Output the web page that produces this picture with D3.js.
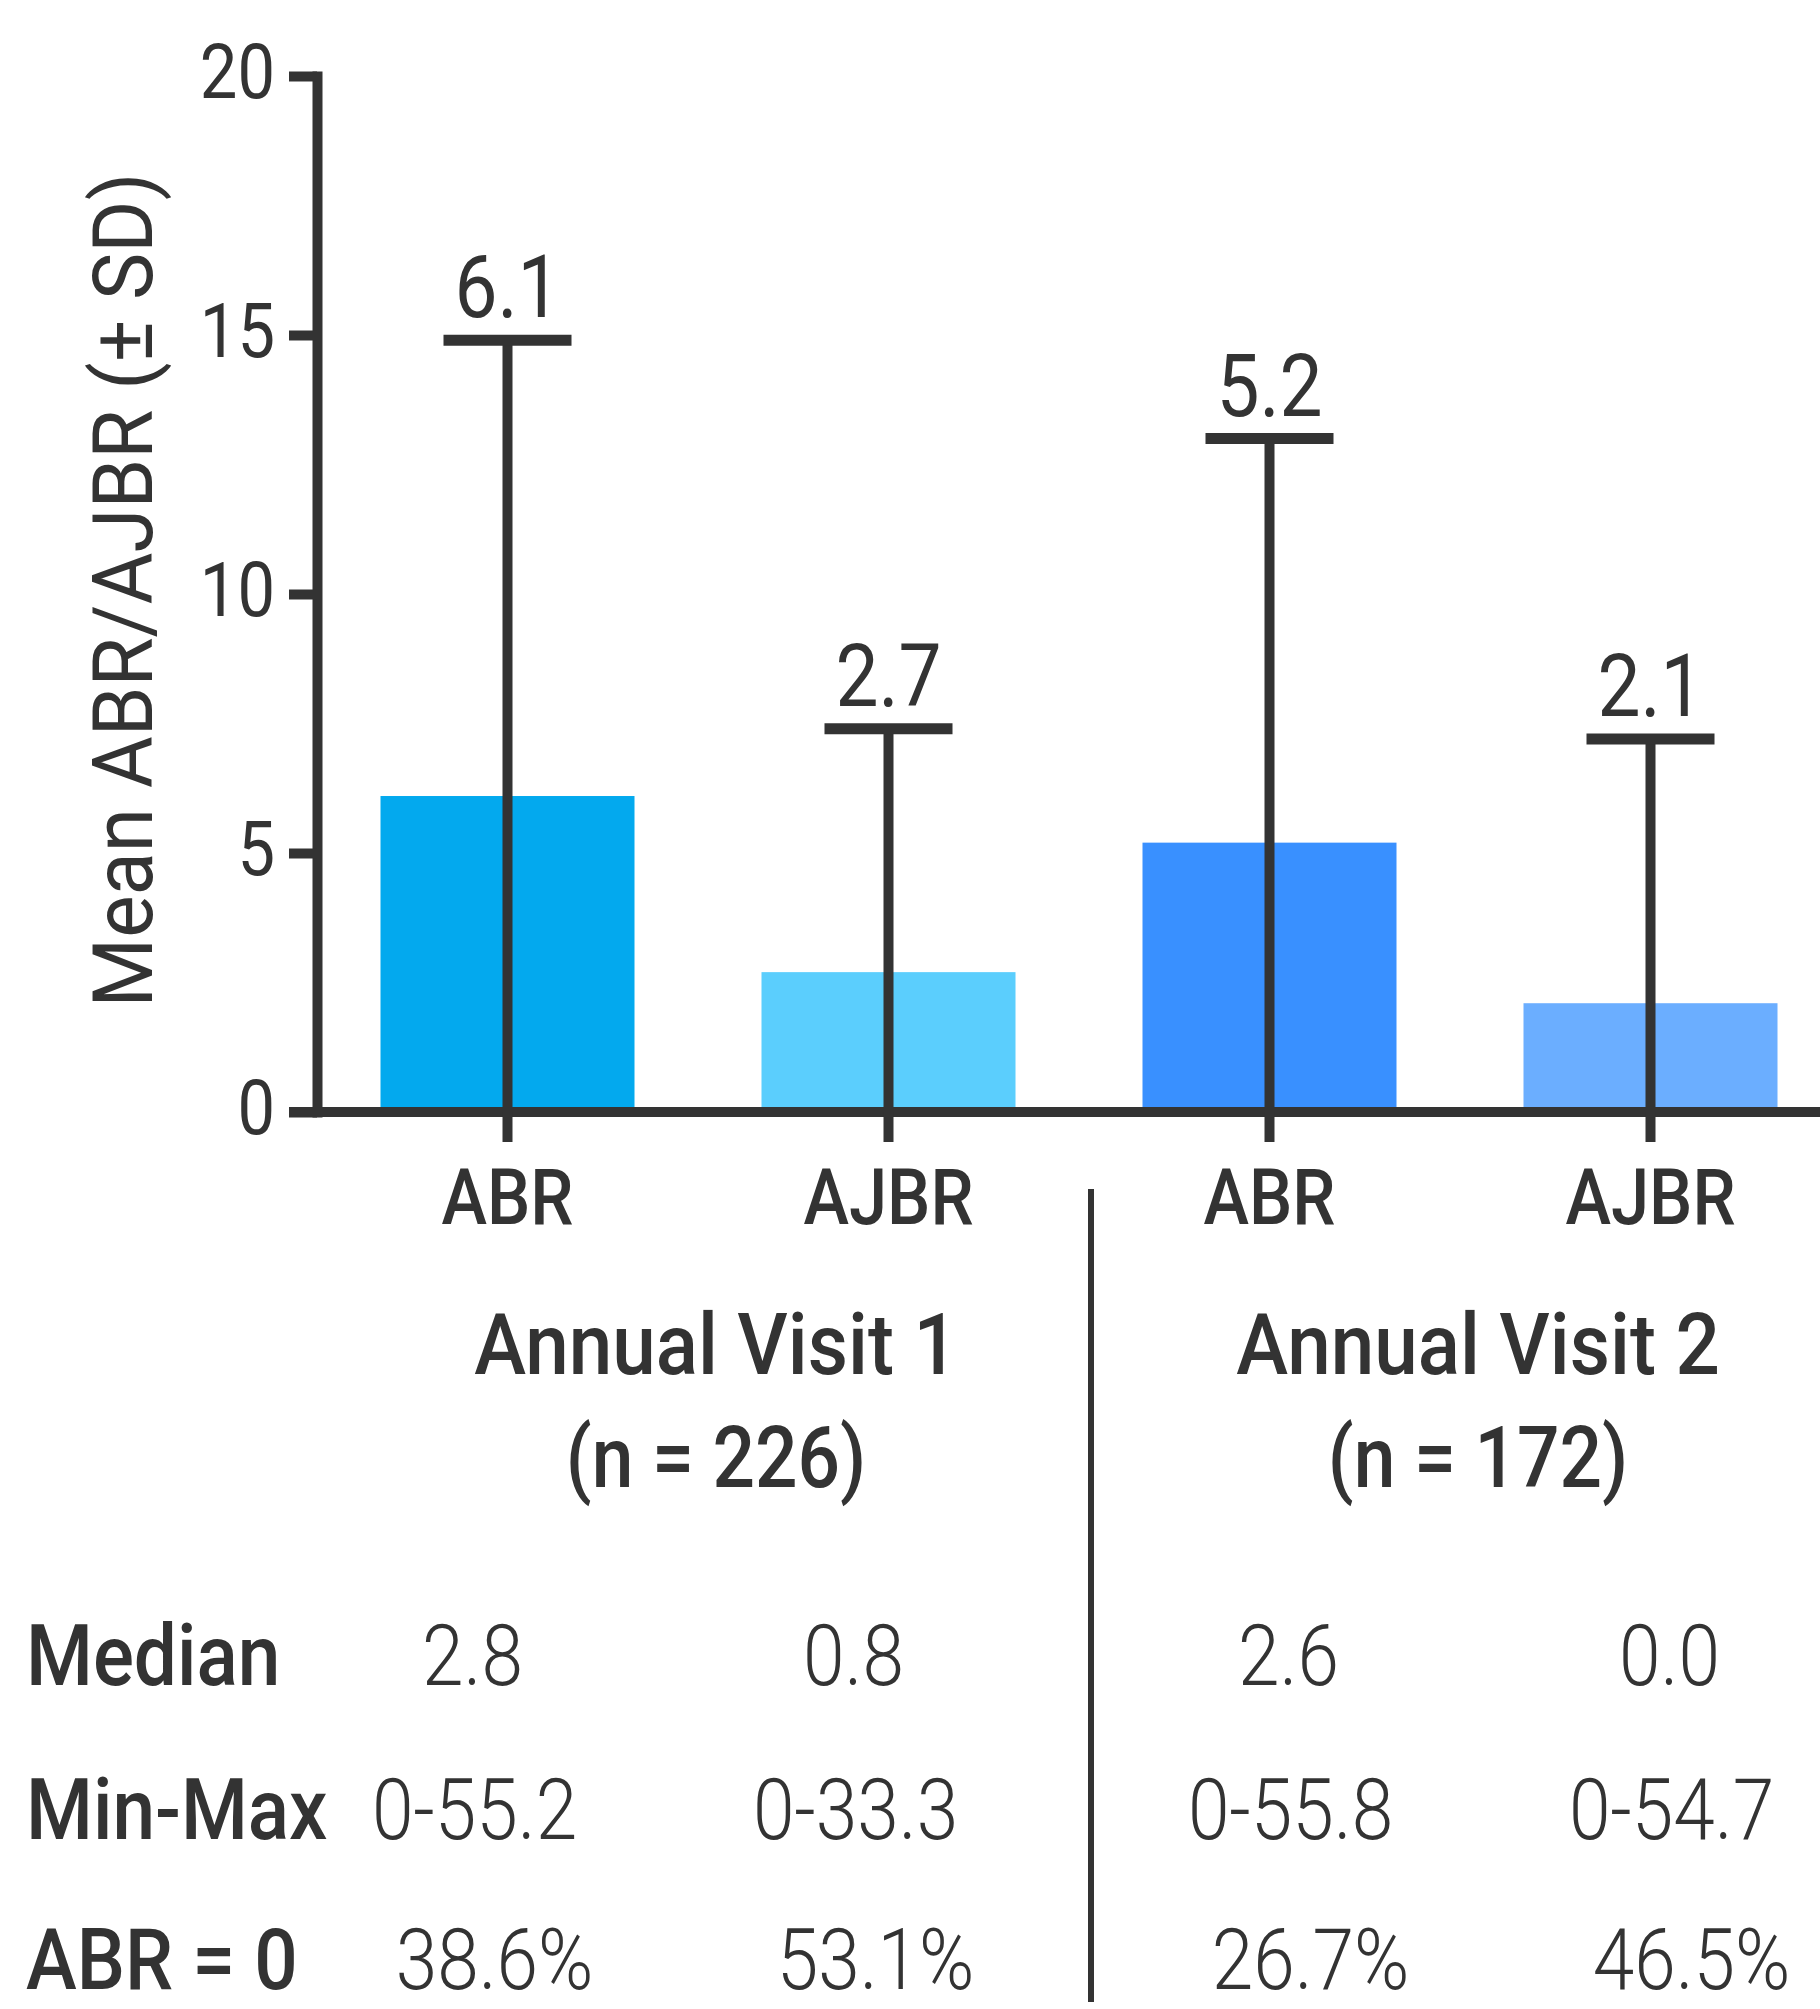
<!DOCTYPE html>
<html>
<head>
<meta charset="utf-8">
<script src="https://cdn.jsdelivr.net/npm/d3@7"></script>
<style>
  html, body { margin: 0; padding: 0; background: #fff; }
  svg { display: block; }
  text { font-family: Roboto, "Liberation Sans", Arial, sans-serif; fill: #333; }
</style>
</head>
<body>
<div id="chart"></div>
<script>
// data
const visits = ['Annual Visit 1', 'Annual Visit 2'];
const visitN = ['(n = 226)', '(n = 172)'];
const measures = ['ABR', 'AJBR'];
const means = [6.1, 2.7, 5.2, 2.1];
const sds = [8.8, 4.7, 7.8, 5.1];
const yTicks = [0, 5, 10, 15, 20];
const rowLabels = ['Median', 'Min-Max', 'ABR = 0'];
const medians = ['2.8', '0.8', '2.6', '0.0'];
const minMax = ['0-55.2', '0-33.3', '0-55.8', '0-54.7'];
const zeroPct = ['38.6%', '53.1%', '26.7%', '46.5%'];
const colors = ['#03a9ee', '#5bcefd', '#3990ff', '#6baeff'];

const width = 1820;
const height = 2009;
const ink = '#333333';
const sx = 0.88; // narrow the glyphs a bit, the original face is condensed

const svg = d3.select('#chart')
    .append('svg')
    .attr('width', width)
    .attr('height', height);

const x = d3.scaleBand()
    .domain(d3.range(means.length))
    .range([317, 1841])
    .paddingInner(1 / 3)
    .paddingOuter(1 / 6);

const y = d3.scaleLinear()
    .domain([0, 20])
    .range([1112, 76]);

const cx = i => x(i) + x.bandwidth() / 2;

// text helper: places a horizontally squeezed label
function label(parent, px, py, str, size, weight, anchor = 'middle', rot = 0, scaleX = sx) {
    const g = parent.append('g')
        .attr('transform', `translate(${px},${py})` + (rot ? ` rotate(${rot})` : ''));
    g.append('text')
        .attr('transform', `scale(${scaleX},1)`)
        .attr('text-anchor', anchor)
        .attr('font-size', size)
        .attr('font-weight', weight)
        .text(str);
    return g;
}

// bars
svg.append('g')
    .selectAll('rect')
    .data(means)
    .join('rect')
    .attr('x', (d, i) => x(i))
    .attr('y', d => y(d))
    .attr('width', x.bandwidth())
    .attr('height', d => y(0) - y(d))
    .attr('fill', (d, i) => colors[i]);

// error bars (only the upper half is visible above 0)
const err = svg.append('g').attr('stroke', ink);
means.forEach((m, i) => {
    err.append('line')
        .attr('x1', cx(i)).attr('x2', cx(i))
        .attr('y1', y(m + sds[i])).attr('y2', y(0))
        .attr('stroke-width', 10);
    err.append('line')
        .attr('x1', cx(i) - 64).attr('x2', cx(i) + 64)
        .attr('y1', y(m + sds[i])).attr('y2', y(m + sds[i]))
        .attr('stroke-width', 11);
    label(svg, cx(i), y(m + sds[i]) - 23, m.toFixed(1), 87, 400);
});

// y axis
const yAxis = svg.append('g')
    .attr('transform', 'translate(317,0)')
    .call(d3.axisLeft(y).tickValues(yTicks).tickSize(28).tickPadding(14).tickSizeOuter(0));
yAxis.select('.domain').attr('stroke', ink).attr('stroke-width', 10).attr('stroke-linecap', 'square');
yAxis.selectAll('.tick line').attr('stroke', ink).attr('stroke-width', 10);
yAxis.selectAll('.tick text')
    .attr('fill', ink)
    .attr('font-family', 'Roboto, "Liberation Sans", Arial, sans-serif')
    .attr('font-size', 76)
    .attr('x', -42 / sx)
    .attr('dy', '0.28em')
    .attr('transform', `scale(${sx},1)`);

// x axis
svg.append('line')
    .attr('x1', 289).attr('x2', width)
    .attr('y1', y(0)).attr('y2', y(0))
    .attr('stroke', ink).attr('stroke-width', 10);

const xAxis = svg.append('g')
    .attr('transform', `translate(0,${y(0)})`)
    .call(d3.axisBottom(x).tickSize(30).tickPadding(27).tickFormat(i => measures[i % 2]));
xAxis.select('.domain').remove();
xAxis.selectAll('.tick line').attr('stroke', ink).attr('stroke-width', 10);
// swap the axis text for squeezed labels centred on the ticks
xAxis.selectAll('.tick').each(function () {
    const t = d3.select(this).select('text');
    const s = t.text();
    const ty = +t.attr('y');
    t.remove();
    label(d3.select(this), 0, ty + 0.71 * 78, s, 78, 500);
});

// y title
label(svg, 152, 590, 'Mean ABR/AJBR (\u00b1 SD)', 84, 400, 'middle', -90, 0.95);

// divider between the visits
const divX = (cx(1) + cx(2)) / 2 + 12;
svg.append('line')
    .attr('x1', divX).attr('x2', divX)
    .attr('y1', 1189).attr('y2', 2002)
    .attr('stroke', ink).attr('stroke-width', 6);

// visit headers
visits.forEach((v, k) => {
    const mid = (cx(2 * k) + cx(2 * k + 1)) / 2 + 18;
    label(svg, mid, 1374, v, 85, 500, 'middle', 0, 0.92);
    label(svg, mid, 1487, visitN[k], 85, 500);
});

// summary table
const rows = [medians, minMax, zeroPct];
const rowY = [1685, 1839, 1989];
const rowNudge = [-8, -6, 14];
const tableShift = 27;
rows.forEach((vals, r) => {
    label(svg, 26, rowY[r], rowLabels[r], 85, 500, 'start', 0, 0.9);
    vals.forEach((v, i) => {
        const shift = (i < 2 ? -tableShift : tableShift) + rowNudge[r];
        label(svg, cx(i) + shift, rowY[r], v, 85, 300);
    });
});
</script>
</body>
</html>
